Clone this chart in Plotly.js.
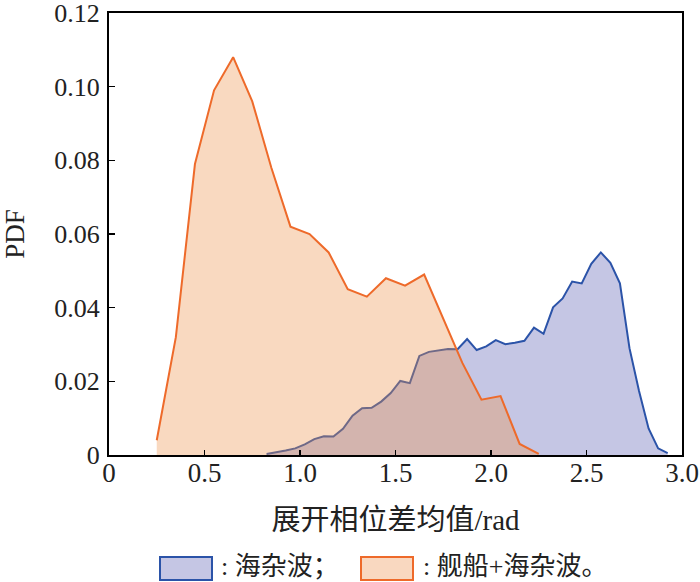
<!DOCTYPE html>
<html>
<head>
<meta charset="utf-8">
<script src="https://cdn.plot.ly/plotly-3.0.1.min.js"></script>
<style>html,body{margin:0;padding:0;background:#fff;}#chart{width:700px;height:582px;}</style>
</head>
<body>
<div id="chart"></div>
<script>
// Sea clutter (海杂波)
var clutterX = [0.825, 0.875, 0.925, 0.975, 1.025, 1.075, 1.125, 1.175, 1.225, 1.275,
                1.325, 1.375, 1.425, 1.475, 1.525, 1.575, 1.625, 1.675, 1.725, 1.775,
                1.825, 1.875, 1.925, 1.975, 2.025, 2.075, 2.125, 2.175, 2.225, 2.275,
                2.325, 2.375, 2.425, 2.475, 2.525, 2.575, 2.625, 2.675, 2.725, 2.775,
                2.825, 2.875, 2.925];
var clutterY = [0.0003, 0.0007, 0.0012, 0.0018, 0.0029, 0.0043, 0.0051, 0.0050, 0.0071, 0.0107,
                0.0127, 0.0128, 0.0145, 0.0168, 0.0201, 0.0195, 0.0269, 0.0280, 0.0285, 0.0288,
                0.0287, 0.0315, 0.0285, 0.0295, 0.0312, 0.0301, 0.0305, 0.0310, 0.0346, 0.0329,
                0.0401, 0.0425, 0.0471, 0.0466, 0.0519, 0.0550, 0.0522, 0.0466, 0.0290, 0.0174,
                0.0072, 0.0018, 0.0005];
// Ship + sea clutter (舰船+海杂波)
var shipX = [0.25, 0.35, 0.45, 0.55, 0.65, 0.75, 0.85, 0.95, 1.05, 1.15,
             1.25, 1.35, 1.45, 1.55, 1.65, 1.75, 1.85, 1.95, 2.05, 2.15, 2.25];
var shipY = [0.004, 0.032, 0.079, 0.099, 0.108, 0.096, 0.078, 0.062, 0.060, 0.055,
             0.045, 0.043, 0.048, 0.046, 0.049, 0.037, 0.025, 0.015, 0.016, 0.003, 0.0003];

var xTickVals = [0, 0.5, 1.0, 1.5, 2.0, 2.5, 3.0];
var xTickText = ['0', '0.5', '1.0', '1.5', '2.0', '2.5', '3.0'];
var yTickVals = [0, 0.02, 0.04, 0.06, 0.08, 0.10, 0.12];
var yTickText = ['0', '0.02', '0.04', '0.06', '0.08', '0.10', '0.12'];
var legendNames = [': \u6D77\u6742\u6CE2\uFF1B', ': \u8230\u8239+\u6D77\u6742\u6CE2\u3002'];

var serif = 'Liberation Serif, Times New Roman, serif';
var cjk = 'Liberation Serif, Noto Sans CJK SC, serif';

var traces = [
  {x: clutterX, y: clutterY, type: 'scatter', mode: 'lines', fill: 'tozeroy',
   fillcolor: '#C5C6E4', line: {color: '#2B53A8', width: 2}, name: legendNames[0], showlegend: false},
  {x: shipX, y: shipY, type: 'scatter', mode: 'lines', fill: 'tozeroy',
   fillcolor: 'rgba(238,146,75,0.35)', line: {color: '#EE6A2A', width: 2}, name: legendNames[1], showlegend: false}
];

var layout = {
  width: 700, height: 582,
  margin: {l: 109, r: 18, t: 13, b: 127},
  paper_bgcolor: '#fff', plot_bgcolor: '#fff',
  xaxis: {range: [0, 3.0], tickvals: xTickVals, ticktext: xTickText,
          ticks: 'inside', ticklen: 5, tickwidth: 1.5, tickcolor: '#000',
          showline: true, linecolor: '#000', linewidth: 2, mirror: true,
          showgrid: false, zeroline: false, ticklabelstandoff: -7,
          tickfont: {family: serif, size: 27, color: '#222'},
          title: {text: '\u5C55\u5F00\u76F8\u4F4D\u5DEE\u5747\u503C/rad', font: {family: cjk, size: 29, color: '#222'}, standoff: 22}},
  yaxis: {range: [0, 0.12], tickvals: yTickVals, ticktext: yTickText,
          ticks: 'inside', ticklen: 6, tickwidth: 1.5, tickcolor: '#000',
          showline: true, linecolor: '#000', linewidth: 2, mirror: true,
          showgrid: false, zeroline: false, ticklabelstandoff: 2, ticklabeloverflow: 'allow',
          tickfont: {family: serif, size: 26, color: '#222'},
          title: {text: 'PDF', font: {family: serif, size: 27, color: '#222'}, standoff: 26}},
  shapes: [
    {type: 'rect', xref: 'paper', yref: 'paper', x0: 51 / 573, x1: 103 / 573, y0: -125 / 442, y1: -102 / 442,
     fillcolor: '#C5C6E4', line: {color: '#2B53A8', width: 2}},
    {type: 'rect', xref: 'paper', yref: 'paper', x0: 252 / 573, x1: 304 / 573, y0: -125 / 442, y1: -102 / 442,
     fillcolor: '#F9D8C0', line: {color: '#EE6A2A', width: 2}}
  ],
  annotations: [
    {xref: 'paper', yref: 'paper', x: 110 / 573, y: -111 / 442, xanchor: 'left', yanchor: 'middle',
     text: legendNames[0], showarrow: false, font: {family: cjk, size: 26, color: '#222'}},
    {xref: 'paper', yref: 'paper', x: 312 / 573, y: -111 / 442, xanchor: 'left', yanchor: 'middle',
     text: legendNames[1], showarrow: false, font: {family: cjk, size: 26, color: '#222'}}
  ]
};

Plotly.newPlot('chart', traces, layout, {displayModeBar: false, staticPlot: true});
</script>
</body>
</html>
